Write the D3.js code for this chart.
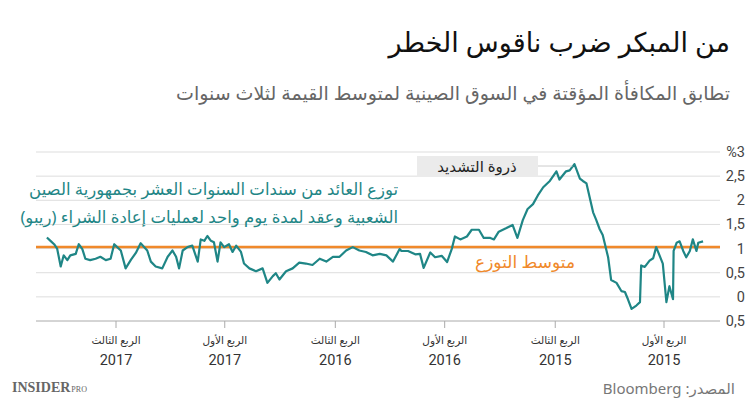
<!DOCTYPE html>
<html><head><meta charset="utf-8">
<script src="https://cdn.jsdelivr.net/npm/d3@7/dist/d3.min.js"></script>
<style>body{margin:0;background:#fff;font-family:"Noto Sans","DejaVu Sans",sans-serif}</style>
</head><body><svg id="c" width="750" height="409"></svg>
<script>
// yield spread, CGB 10y minus overnight repo (%)
const dates = ["2014-10-28","2014-11-05","2014-11-08","2014-11-14","2014-11-19","2014-11-25","2014-11-30","2014-12-06","2014-12-11","2014-12-16","2014-12-17","2014-12-23","2014-12-28","2015-01-03","2015-01-14","2015-01-19","2015-01-25","2015-02-02","2015-02-08","2015-02-10","2015-02-16","2015-02-24","2015-03-02","2015-03-07","2015-03-13","2015-03-21","2015-03-30","2015-04-04","2015-04-13","2015-04-18","2015-04-24","2015-04-29","2015-05-10","2015-05-16","2015-05-21","2015-05-30","2015-06-07","2015-06-13","2015-06-24","2015-06-29","2015-07-10","2015-07-21","2015-07-30","2015-08-07","2015-08-16","2015-08-24","2015-09-02","2015-09-10","2015-09-21","2015-10-03","2015-10-11","2015-10-17","2015-10-28","2015-11-05","2015-11-17","2015-11-25","2015-12-06","2015-12-15","2015-12-20","2015-12-28","2016-01-06","2016-01-17","2016-01-25","2016-02-05","2016-02-11","2016-02-19","2016-03-02","2016-03-13","2016-03-16","2016-03-27","2016-04-07","2016-04-18","2016-04-30","2016-05-11","2016-05-22","2016-06-02","2016-06-13","2016-06-24","2016-07-05","2016-07-16","2016-07-27","2016-08-08","2016-08-19","2016-08-30","2016-09-10","2016-09-21","2016-10-02","2016-10-08","2016-10-13","2016-10-22","2016-10-30","2016-11-10","2016-11-21","2016-11-30","2016-12-05","2016-12-13","2016-12-19","2016-12-25","2017-01-02","2017-01-08","2017-01-13","2017-01-19","2017-01-24","2017-01-30","2017-02-04","2017-02-10","2017-02-15","2017-02-24","2017-03-04","2017-03-12","2017-03-18","2017-03-23","2017-03-29","2017-04-06","2017-04-15","2017-04-26","2017-05-04","2017-05-10","2017-05-21","2017-05-29","2017-06-06","2017-06-15","2017-06-23","2017-06-29","2017-07-04","2017-07-10","2017-07-18","2017-07-27","2017-08-04","2017-08-13","2017-08-21","2017-08-26","2017-09-01","2017-09-06","2017-09-15","2017-09-20","2017-09-26","2017-10-01","2017-10-07","2017-10-12","2017-10-18","2017-10-24"];
const spread = [1.15,1.12,0.95,1.19,0.95,0.82,0.95,1.15,1.12,0.95,-0.05,0.22,-0.11,0.69,1.03,0.8,0.75,0.62,0.65,-0.11,-0.18,-0.25,-0.05,0.1,0.12,0.29,0.35,0.82,1.28,1.4,1.6,1.75,2.35,2.4,2.45,2.75,2.62,2.6,2.43,2.6,2.4,2.27,2.1,1.92,1.82,1.59,1.22,1.49,1.42,1.35,1.19,1.22,1.22,1.39,1.39,1.25,1.19,1.25,1.0,0.72,0.85,0.82,0.92,0.6,0.89,0.88,0.95,0.95,0.99,0.73,0.86,0.89,0.86,0.93,0.96,1.03,0.96,0.83,0.83,0.73,0.79,0.66,0.69,0.71,0.59,0.53,0.36,0.49,0.43,0.29,0.59,0.53,0.59,0.69,0.93,1.06,0.93,1.09,1.03,1.13,0.73,1.13,1.16,1.26,1.16,1.19,0.73,1.06,1.03,0.96,0.59,0.83,0.96,0.83,0.59,0.63,0.73,0.96,1.11,0.91,0.77,0.59,0.96,1.03,1.09,0.79,0.76,0.83,0.79,0.76,0.79,0.99,1.09,0.89,0.86,0.76,0.86,0.63,1.0,1.09,1.16,1.23];
const average = 1.03;
const yTicks = [3,2.5,2,1.5,1,0.5,0,-0.5];
const yTickLabels = ["%3","2,5","2","1,5","1","0,5","0","0,5"];
const xTicks = ["2015-01-01","2015-07-01","2016-01-01","2016-07-01","2017-01-01","2017-07-01"];
const xQuarter = ["الربع الأول","الربع الثالث","الربع الأول","الربع الثالث","الربع الأول","الربع الثالث"];
const xYear = ["2015","2015","2016","2016","2017","2017"];

const svg = d3.select("#c");
const parse = d3.timeParse("%Y-%m-%d");
const data = dates.map((d,i)=>({date:parse(d), v:spread[i]}));
const x = d3.scaleTime().domain([parse("2015-01-01"), parse("2017-07-01")]).range([664,116]);
const y = d3.scaleLinear().domain([-0.5,3]).range([321,152]);
const L = 36, R = 720;
const ar = "'Noto Sans','DejaVu Sans',sans-serif";

// rtl text: anchor "start" puts the right edge on x
function rtl(xx, yy, t) {
  return svg.append("text").attr("x",xx).attr("y",yy).attr("direction","rtl")
    .attr("text-anchor","start").style("font-family",ar).text(t);
}

rtl(730,52,"من المبكر ضرب ناقوس الخطر").style("font-size","27px").attr("fill","#111");
rtl(730,100,"تطابق المكافأة المؤقتة في السوق الصينية لمتوسط القيمة لثلاث سنوات").style("font-size","19px").attr("fill","#666");

// grid
svg.append("g").selectAll("line").data(yTicks).join("line")
  .attr("x1",L).attr("x2",R).attr("y1",d=>y(d)).attr("y2",d=>y(d))
  .attr("stroke",d=>d===-0.5?"#aaa":"#ddd").attr("stroke-width",1);
svg.append("g").selectAll("text").data(yTicks).join("text")
  .attr("x",745).attr("y",d=>y(d)+5).attr("text-anchor","end")
  .style("font-family","Roboto,sans-serif").style("font-size","14.5px").attr("fill","#444")
  .text((d,i)=>yTickLabels[i]);

// x ticks
const xg = svg.append("g").selectAll("g").data(xTicks).join("g")
  .attr("transform",d=>`translate(${x(parse(d))},0)`);
xg.append("line").attr("y1",321).attr("y2",328).attr("stroke","#aaa");
xg.append("text").attr("y",344).attr("text-anchor","middle").style("font-family",ar)
  .style("font-size","10.5px").attr("fill","#333").text((d,i)=>xQuarter[i]);
xg.append("text").attr("y",365).attr("text-anchor","middle").style("font-family","Roboto,sans-serif")
  .style("font-size","14.5px").attr("fill","#333").text((d,i)=>xYear[i]);

// average
svg.append("line").attr("x1",L).attr("x2",R).attr("y1",y(average)).attr("y2",y(average))
  .attr("stroke","#f0892a").attr("stroke-width",2.5);
rtl(575,268,"متوسط التوزع").style("font-size","17px").attr("fill","#f0892a");

// series
svg.append("path").datum(data).attr("fill","none").attr("stroke","#1f8686").attr("stroke-width",2.2)
  .attr("stroke-linejoin","round").attr("d",d3.line().x(d=>x(d.date)).y(d=>y(d.v)));

// teal label
[["توزع العائد من سندات السنوات العشر بجمهورية الصين",195],["الشعبية وعقد لمدة يوم واحد لعمليات إعادة الشراء (ريبو)",223]].forEach(([t,yy])=>{
  rtl(398,yy,t).style("font-size","16.5px").attr("fill","#1f8686");
});

// peak annotation
const peak = data.reduce((a,b)=>b.v>a.v?b:a);
svg.append("line").attr("x1",538).attr("y1",166).attr("x2",x(peak.date)-2).attr("y2",y(peak.v)+2).attr("stroke","#ccc");
svg.append("rect").attr("x",417).attr("y",156).attr("width",121).attr("height",21).attr("fill","#ebebeb");
svg.append("text").attr("x",477).attr("y",172).attr("text-anchor","middle").attr("direction","rtl")
  .style("font-family",ar).style("font-size","15px").attr("fill","#222").text("ذروة التشديد");

// footer
rtl(735,394,"المصدر: Bloomberg").style("font-size","15px").attr("fill","#777");
const lg = svg.append("text").attr("x",12).attr("y",392).style("font-family","'Liberation Serif',serif")
  .style("font-weight","bold").style("font-size","14px").attr("fill","#666");
lg.append("tspan").text("INSIDER");
lg.append("tspan").style("font-size","8px").style("font-weight","normal").attr("dx",1).text("PRO");
</script></body></html>
